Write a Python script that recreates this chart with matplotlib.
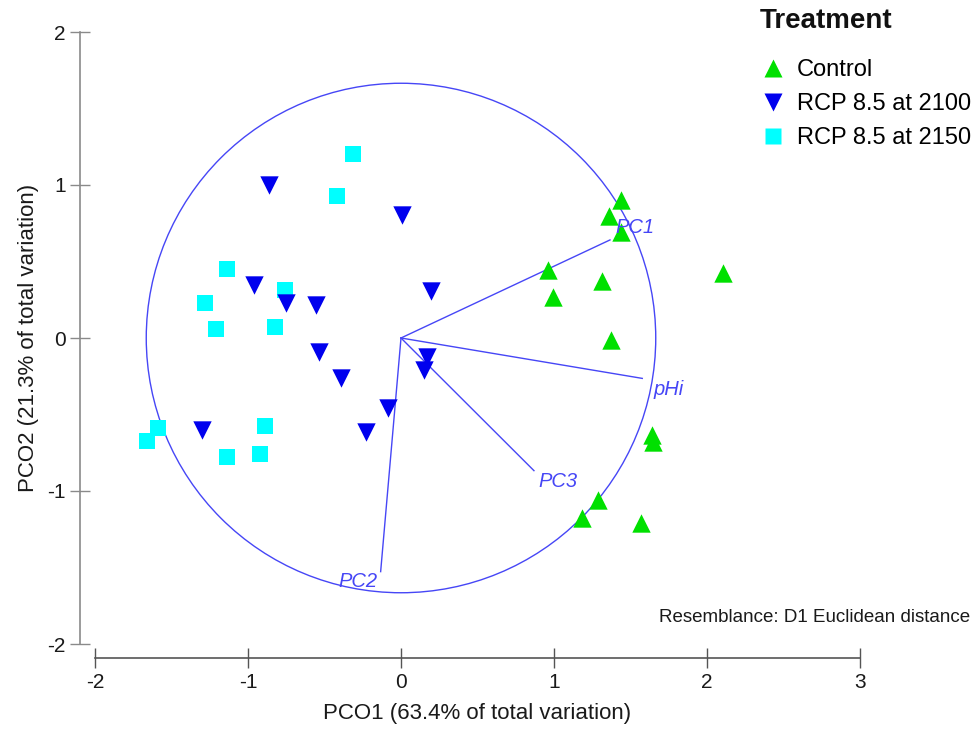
import matplotlib
matplotlib.use("Agg")
import matplotlib.pyplot as plt
import matplotlib.patches as patches
from matplotlib.lines import Line2D

plt.rcParams["font.family"] = ["Liberation Sans", "DejaVu Sans"]

# PCO scores per treatment group
control_x = [1.436, 1.357, 1.436, 0.959, 1.312, 0.993, 2.102, 1.373, 1.638, 1.645, 1.290, 1.181, 1.567]
control_y = [0.902, 0.797, 0.695, 0.444, 0.373, 0.270, 0.427, -0.013, -0.634, -0.678, -1.059, -1.178, -1.211]

rcp2100_x = [-0.865, 0.009, -0.959, -0.754, -0.553, 0.194, -0.538, -0.394, 0.168, 0.150, -0.087, -1.303, -0.231]
rcp2100_y = [1.000, 0.804, 0.346, 0.231, 0.216, 0.309, -0.089, -0.264, -0.122, -0.209, -0.460, -0.601, -0.612]

rcp2150_x = [-0.316, -0.418, -1.135, -1.283, -0.758, -1.211, -0.821, -1.586, -1.662, -0.887, -1.137, -0.920]
rcp2150_y = [1.203, 0.928, 0.451, 0.231, 0.314, 0.059, 0.074, -0.590, -0.673, -0.573, -0.780, -0.758]

# vector overlay (correlations with PCO axes)
vec_names = ["PC1", "pHi", "PC3", "PC2"]
vec_x = [1.366, 1.577, 0.869, -0.133]
vec_y = [0.641, -0.264, -0.867, -1.527]
vec_label_offset = [(18, 9), (19, -8), (17, -8), (-16, -7)]  # points
circle_r = 1.665

x_ticks = [-2, -1, 0, 1, 2, 3]
y_ticks = [-2, -1, 0, 1, 2]

group_names = ["Control", "RCP 8.5 at 2100", "RCP 8.5 at 2150"]

VEC_COLOR = "#4646f6"

W, H = 976, 729
fig = plt.figure(figsize=(W / 100, H / 100), dpi=100)

# 153 px per unit on both axes
unit = 153.0
x0, x1 = -2.1, 3.0
y0, y1 = -2.09, 2.0
left_px = 95 - 0.1 * unit
top_px = 32
ax = fig.add_axes([
    left_px / W,
    (H - (top_px + (y1 - y0) * unit)) / H,
    (x1 - x0) * unit / W,
    (y1 - y0) * unit / H,
])
ax.set_xlim(x0, x1)
ax.set_ylim(y0, y1)
ax.patch.set_visible(False)

for s in ["top", "right"]:
    ax.spines[s].set_visible(False)
ax.spines["left"].set_bounds(-2, 2)
ax.spines["bottom"].set_bounds(-2, 3)
ax.spines["left"].set_color("#8a8a8a")
ax.spines["bottom"].set_color("#555555")
ax.spines["left"].set_linewidth(1.2)
ax.spines["bottom"].set_linewidth(1.2)

ax.set_xticks(x_ticks)
ax.set_yticks(y_ticks)
ax.set_xticklabels([str(t) for t in x_ticks])
ax.set_yticklabels([str(t) for t in y_ticks])
ax.tick_params(axis="y", direction="inout", length=14, width=1, colors="#8a8a8a",
               labelcolor="#1a1a1a", labelsize=15, pad=3)
ax.tick_params(axis="x", direction="inout", length=14, width=1, colors="#555555",
               labelcolor="#1a1a1a", labelsize=15, pad=4)

ax.set_xlabel("PCO1 (63.4% of total variation)", fontsize=16, color="#1a1a1a")
ax.set_ylabel("PCO2 (21.3% of total variation)", fontsize=16, color="#1a1a1a")
ax.xaxis.set_label_coords((477.5 - left_px) / ((x1 - x0) * unit), -0.072)
ax.yaxis.set_label_coords(-0.052, 0.511)

# correlation circle and vectors
ax.add_patch(patches.Circle((0, 0), circle_r, fill=False, edgecolor=VEC_COLOR, lw=1.0, zorder=1))
for name, vx, vy, off in zip(vec_names, vec_x, vec_y, vec_label_offset):
    ax.plot([0, vx], [0, vy], color=VEC_COLOR, lw=1.0, zorder=1)
    ax.annotate(name, (vx, vy), xytext=off, textcoords="offset points",
                ha="center", va="center", fontsize=14.5, style="italic",
                color=VEC_COLOR, zorder=4)

ax.scatter(rcp2150_x, rcp2150_y, marker="s", s=135, c="#00ffff", linewidths=0, zorder=3)
ax.scatter(rcp2100_x, rcp2100_y, marker="v", s=175, c="#0000ee", linewidths=0, zorder=3)
ax.scatter(control_x, control_y, marker="^", s=175, c="#00e000", linewidths=0, zorder=3)

ax.text(970 / W, (H - 617) / H, "Resemblance: D1 Euclidean distance", transform=fig.transFigure,
        ha="right", va="center", fontsize=13.5, color="#1a1a1a")

# legend title sits apart from the entries
fig.text(760 / W, 1 - 21 / H, "Treatment", fontsize=20, fontweight="bold",
         ha="left", va="center", color="#111111")
handles = [
    Line2D([], [], ls="none", marker="^", ms=13, mfc="#00e000", mec="none"),
    Line2D([], [], ls="none", marker="v", ms=13, mfc="#0000ee", mec="none"),
    Line2D([], [], ls="none", marker="s", ms=11, mfc="#00ffff", mec="none"),
]
fig.legend(handles, group_names, loc="upper left", bbox_to_anchor=(752 / W, 1 - 50 / H),
           frameon=False, fontsize=17, handlelength=1.0, handletextpad=0.5,
           labelspacing=0.5, borderaxespad=0)

fig.savefig("out.png", dpi=100)
